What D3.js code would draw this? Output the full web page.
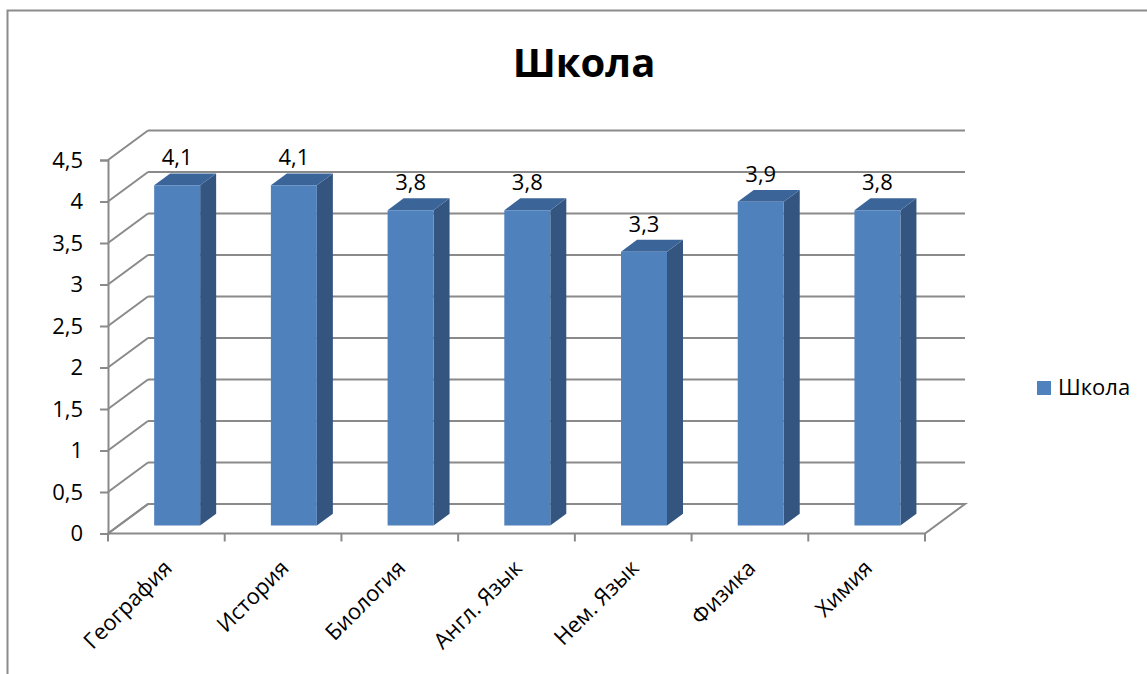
<!DOCTYPE html>
<html lang="ru">
<head>
<meta charset="UTF-8">
<title>Школа</title>
<script src="https://cdnjs.cloudflare.com/ajax/libs/d3/7.8.5/d3.min.js"></script>
<style>
  html, body { margin: 0; padding: 0; background: #fff; }
  svg { display: block; font-family: "Open Sans", "DejaVu Sans", sans-serif; }
</style>
</head>
<body>
<svg id="chart" width="1147" height="674"></svg>
<script>
const subjects = ['География', 'История', 'Биология', 'Англ. Язык', 'Нем. Язык', 'Физика', 'Химия'];
const scores = [4.1, 4.1, 3.8, 3.8, 3.3, 3.9, 3.8];
const yTicks = [0, 0.5, 1, 1.5, 2, 2.5, 3, 3.5, 4, 4.5];
const seriesName = 'Школа';

const svg = d3.select('#chart');
const gridColor = '#8a8a8a';

// front plane scales, depth offsets give the 3d look
const x = d3.scaleBand(subjects, [108, 925]);
const y = d3.scaleLinear([0, 4.5], [533.5, 160]);
const depthX = 40, depthY = -29.5;
const proj = (px, py, z) => [px + depthX * z, py + depthY * z];
const fmt = v => String(v).replace('.', ',');

// chart border
svg.append('rect')
  .attr('x', 7.5).attr('y', 10.5)
  .attr('width', 1300).attr('height', 800)
  .attr('fill', 'none').attr('stroke', '#8c8c8c').attr('stroke-width', 2);

// title
svg.append('text')
  .attr('x', 584).attr('y', 77)
  .attr('text-anchor', 'middle')
  .attr('font-weight', 'bold').attr('font-size', 40)
  .text(seriesName);

const walls = svg.append('g')
  .attr('fill', 'none').attr('stroke', gridColor).attr('stroke-width', 2);

const x0 = x.range()[0], x1 = x.range()[1];

// back wall gridlines + side wall diagonals
yTicks.forEach(t => {
  const [bx0, by] = proj(x0, y(t), 1);
  const [bx1] = proj(x1, y(t), 1);
  if (t > 0) {
    walls.append('line').attr('x1', bx0).attr('y1', by).attr('x2', bx1).attr('y2', by);
  }
  walls.append('line').attr('x1', x0).attr('y1', y(t)).attr('x2', bx0).attr('y2', by);
});

// floor
const floor = [proj(x0, y(0), 0), proj(x1, y(0), 0), proj(x1, y(0), 1), proj(x0, y(0), 1)];
walls.append('path').attr('d', d3.line()(floor) + 'Z');

// y axis
const yAxis = d3.axisLeft(y).tickValues(yTicks).tickFormat(fmt).tickSize(8).tickPadding(17);
const ya = svg.append('g').attr('transform', `translate(${x0},0)`).call(yAxis);
ya.selectAll('path, line').attr('stroke', gridColor).attr('stroke-width', 2);
ya.selectAll('text').attr('font-size', 22).attr('fill', '#000')
  .attr('font-family', '"Open Sans", sans-serif');

// x axis ticks at band edges
const edges = subjects.map(s => x(s)).concat([x1]);
svg.append('g').selectAll('line').data(edges).join('line')
  .attr('x1', d => d).attr('x2', d => d)
  .attr('y1', y(0)).attr('y2', y(0) + 8)
  .attr('stroke', gridColor).attr('stroke-width', 2);

// bars
const barW = x.bandwidth() * 0.394;
const zFront = 0.27, zBack = 0.67;
const bars = svg.append('g');
subjects.forEach((s, i) => {
  const v = scores[i];
  const left = x(s) + (x.bandwidth() - barW) / 2;
  const right = left + barW;
  const fTL = proj(left, y(v), zFront), fTR = proj(right, y(v), zFront);
  const fBR = proj(right, y(0), zFront), fBL = proj(left, y(0), zFront);
  const bTL = proj(left, y(v), zBack), bTR = proj(right, y(v), zBack);
  const bBR = proj(right, y(0), zBack);
  bars.append('path').attr('d', d3.line()([fTR, bTR, bBR, fBR]) + 'Z').attr('fill', '#34557f');
  bars.append('path').attr('d', d3.line()([fTL, bTL, bTR, fTR]) + 'Z').attr('fill', '#3b6599');
  bars.append('path').attr('d', d3.line()([fTL, fTR, fBR, fBL]) + 'Z').attr('fill', '#4f81bd');
  bars.append('text')
    .attr('x', (fTL[0] + fTR[0]) / 2).attr('y', fTL[1] - 20)
    .attr('text-anchor', 'middle').attr('font-size', 22)
    .text(fmt(v));
});

// category labels
svg.append('g').selectAll('text').data(subjects).join('text')
  .attr('transform', d => `translate(${x(d) + x.bandwidth() / 2 + 7},${y(0) + 36}) rotate(-45)`)
  .attr('text-anchor', 'end')
  .attr('font-size', 22)
  .text(d => d);

// legend
svg.append('rect').attr('x', 1037).attr('y', 381).attr('width', 14).attr('height', 14).attr('fill', '#4f81bd');
svg.append('text').attr('x', 1058).attr('y', 395).attr('font-size', 22).text(seriesName);
</script>
</body>
</html>
